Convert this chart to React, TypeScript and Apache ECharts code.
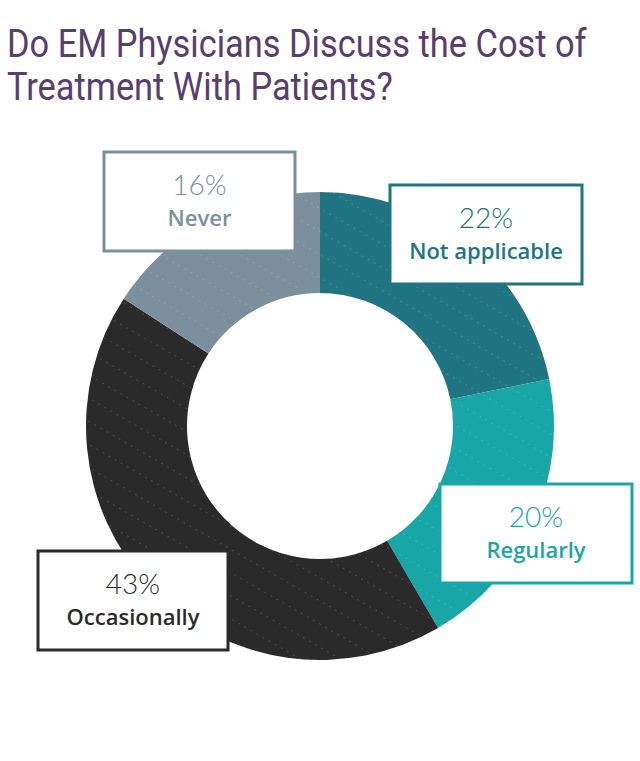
import React, { useEffect, useRef } from "react";
import * as echarts from "echarts";

const titleLines = ["Do EM Physicians Discuss the Cost of", "Treatment With Patients?"];
const categories = ["Not applicable", "Regularly", "Occasionally", "Never"];
const values = [22, 20, 43, 16];
const percentLabels = ["22%", "20%", "43%", "16%"];
const colors = ["#217481", "#19a6a6", "#2a2a2a", "#7b909c"];
// label boxes: [left, top, right, bottom]
const boxes = [
  [390, 185, 582, 284],
  [440, 484, 632, 583],
  [38, 551, 228, 650],
  [104, 152, 295, 251],
];

export default function App() {
  const ref = useRef<HTMLDivElement>(null);
  useEffect(() => {
    document.body.style.margin = "0";
    const chart = echarts.init(ref.current!, null, { renderer: "svg" });
    const decal = {
      symbol: "rect",
      symbolSize: 1,
      color: "rgba(255,255,255,0.16)",
      dashArrayX: [2, 5],
      dashArrayY: [1, 19],
      rotation: Math.PI / 6,
    };
    const graphics: any[] = [];
    titleLines.forEach((t, i) => {
      graphics.push({
        type: "text",
        x: 7,
        y: 44 + i * 43,
        scaleX: 0.905,
        z: 10,
        style: {
          text: t,
          fill: "#583d6f",
          font: "38px Roboto",
          textAlign: "left",
          align: "left",
          textVerticalAlign: "middle",
          verticalAlign: "middle",
        },
      });
    });
    boxes.forEach((b, i) => {
      const [l, t, r, bt] = b;
      const cx = (l + r) / 2;
      graphics.push({
        type: "rect",
        z: 10,
        shape: { x: l, y: t, width: r - l, height: bt - t },
        style: { fill: "#ffffff", stroke: colors[i], lineWidth: 3 },
      });
      graphics.push({
        type: "text",
        z: 11,
        x: cx,
        y: t + 32,
        style: {
          text: percentLabels[i],
          fill: colors[i],
          font: "300 28px Lato",
          textAlign: "center",
          align: "center",
          textVerticalAlign: "middle",
          verticalAlign: "middle",
        },
      });
      graphics.push({
        type: "text",
        z: 11,
        x: cx,
        y: t + 65,
        style: {
          text: categories[i],
          fill: colors[i],
          font: "600 22px 'Open Sans'",
          textAlign: "center",
          align: "center",
          textVerticalAlign: "middle",
          verticalAlign: "middle",
        },
      });
    });
    chart.setOption({
      animation: false,
      graphic: { elements: graphics },
      series: [
        {
          type: "pie",
          center: [320, 426],
          radius: [133, 234],
          startAngle: 90,
          clockwise: true,
          label: { show: false },
          labelLine: { show: false },
          silent: true,
          data: categories.map((c, i) => ({
            name: c,
            value: values[i],
            itemStyle: { color: colors[i], decal },
          })),
        },
      ],
    });
    return () => chart.dispose();
  }, []);
  return <div ref={ref} style={{ width: 640, height: 761 }} />;
}
